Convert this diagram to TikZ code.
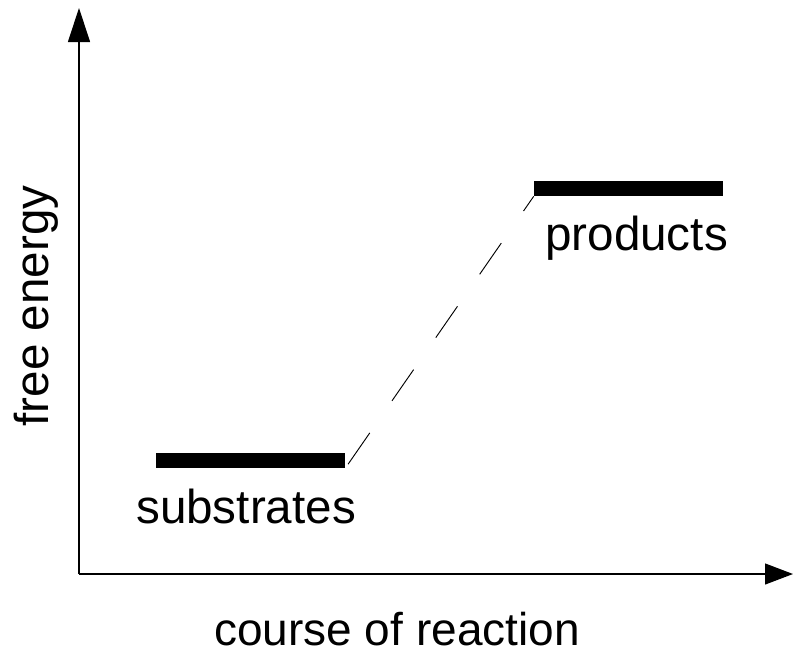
\documentclass[tikz,border=0pt]{standalone}
\usepackage{fontspec}
\setmainfont{Liberation Sans}
\usetikzlibrary{arrows.meta}
\begin{document}
\begin{tikzpicture}[x=0.75pt,y=-0.75pt,
  axis/.style={line width=0.9pt},
  level/.style={fill=black, draw=none, minimum width=141.75pt, minimum height=11.25pt, inner sep=0pt},
  link/.style={line width=0.7pt, dash pattern=on 28.5pt off 29.25pt, dash phase=54pt},
  lbl/.style={font=\fontsize{35.7}{43}\selectfont, inner sep=0pt}]
\useasboundingbox (0,0) rectangle (793,650);
\coordinate (O) at (79,574);
\coordinate (Ytip) at (79,8);
\coordinate (Xtip) at (793,574);
\draw[axis,-{Triangle[length=25.5pt,width=16.5pt]}] (O) -- (Ytip);
\draw[axis,-{Triangle[length=21pt,width=15.75pt]}] (O) -- (Xtip);
\node[level] (sub) at (250.5,460.5) {};
\node[level] (prod) at (628.5,188.5) {};
\draw[link] (sub.south east) -- (prod.south west);
\node[lbl, anchor=base west] (subl) at (136,523) {substrates};
\node[lbl, anchor=base west] (prodl) at (545,250) {products};
\node[lbl, anchor=base, font=\fontsize{34.5}{42}\selectfont] (xl) at (397,645) {course of reaction};
\node[lbl, anchor=base, rotate=90] (yl) at (48,306) {free energy};
\end{tikzpicture}
\end{document}
